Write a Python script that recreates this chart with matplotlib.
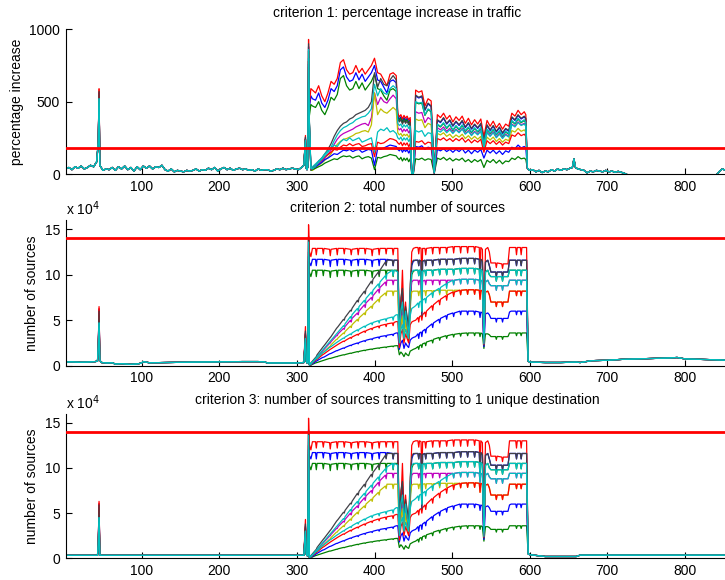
import matplotlib
matplotlib.use("Agg")
import matplotlib.pyplot as plt

plt.rcParams['font.family'] = ['Liberation Sans', 'DejaVu Sans']
plt.rcParams['font.size'] = 10

# classic MATLAB line colours
RED = (1.0, 0.0, 0.0)
BLUE = (0.0, 0.0, 1.0)
GREEN = (0.0, 0.5, 0.0)
CYAN = (0.0, 0.75, 0.75)
MAGENTA = (0.75, 0.0, 0.75)
YELLOW = (0.75, 0.75, 0.0)
DARK = (0.25, 0.25, 0.28)

# ------------------------------------------------ criterion 1: % increase
# samples of the attack window (311 .. 600)
PCT_STEPS = ([311, 312, 313, 314, 315, 316, 318]
             + list(range(320, 429, 4))
             + list(range(430, 451, 2))
             + list(range(453, 594, 4))
             + [595, 597, 600])

PCT_PRE_T = list(range(2, 43, 4)) + [44, 45] + list(range(46, 307, 4)) + [309]
PCT_PRE_V = ([35, 45, 30, 50, 40, 55, 35, 45, 60, 50, 85, 220, 520]
             + [60, 25, 35, 30, 45, 25, 50, 35, 55, 30, 45, 20, 50, 30, 55, 40, 55, 35, 50, 45,
                60, 30, 20, 35, 15, 25, 20, 15, 25, 20, 25, 35, 20, 30, 25, 40, 30, 45, 20, 35,
                45, 30, 40, 25, 35, 40, 30, 35, 25, 30, 20, 35, 25, 30, 30, 20, 25, 35, 30, 40,
                30, 35, 40, 35, 30, 45]
             + [60])
PCT_POST_T = list(range(604, 653, 4)) + [655, 657, 659] + list(range(662, 727, 4)) + \
    [735, 760, 790, 820, 840, 844, 848, 853]
PCT_POST_V = ([30, 15, 25, 10, 20, 15, 30, 20, 35, 25, 35, 30, 40]
              + [45, 105, 45]
              + [35, 30, 25, 8, 20, 15, 25, 20, 15, 25, 15, 20, 12, 18, 12, 5, -5]
              + [-30, -40, -35, -30, -10, 15, 35, 25])

PCT_R1 = ([266, 40, 30, 50, 930, 480, 590]
          + [580, 560, 610, 540, 500, 560, 640, 620, 660, 770, 790, 720, 690, 700, 750, 700, 730,
             690, 720, 750, 800, 700, 690, 650, 610, 690, 700, 680]
          + [420, 395, 410, 380, 405, 385, 400, 375, 390, 0, 0]
          + [580, 565, 575, 470, 520, 505, 10, 410, 390, 420, 380, 405, 360, 395, 370, 400, 350,
             385, 340, 375, 345, 380, 260, 370, 330, 365, 320, 350, 310, 345, 330, 420, 400, 440,
             410, 430]
          + [410, 40, 25])
PCT_B1 = ([250, 40, 30, 50, 880, 450, 540]
          + [520, 510, 560, 490, 460, 510, 590, 570, 610, 720, 740, 670, 640, 650, 700, 650, 690,
             640, 670, 700, 750, 650, 640, 600, 560, 640, 650, 630]
          + [400, 380, 395, 365, 390, 370, 385, 360, 375, 0, 0]
          + [540, 525, 535, 440, 485, 465, 10, 370, 355, 385, 345, 370, 330, 360, 335, 365, 320,
             350, 310, 340, 315, 345, 225, 335, 300, 330, 290, 320, 280, 310, 295, 390, 370, 405,
             380, 395]
          + [380, 40, 25])
PCT_G1 = ([240, 40, 30, 50, 850, 400, 480]
          + [470, 460, 500, 440, 410, 460, 530, 510, 550, 660, 680, 610, 580, 590, 640, 590, 630,
             580, 610, 640, 690, 590, 580, 540, 510, 580, 590, 570]
          + [390, 370, 385, 355, 380, 360, 375, 350, 365, 0, 0]
          + [495, 485, 490, 405, 445, 430, 10, 340, 325, 350, 315, 340, 300, 330, 305, 335, 295,
             320, 285, 315, 290, 315, 205, 305, 280, 305, 270, 295, 260, 290, 275, 365, 345, 380,
             355, 370]
          + [350, 40, 25])
PCT_K1 = ([255, 40, 30, 50, 900, 380, 40]
          + [40, 60, 90, 110, 140, 170, 210, 260, 300, 330, 350, 360, 380, 390, 410, 420, 430, 440,
             460, 500, 700, 600, 660, 620, 610, 650, 680, 650]
          + [380, 360, 375, 345, 370, 350, 365, 340, 355, 0, 0]
          + [545, 530, 540, 445, 490, 470, 10, 375, 360, 390, 350, 375, 335, 365, 340, 370, 325,
             355, 315, 345, 320, 350, 230, 340, 305, 335, 295, 325, 285, 315, 300, 395, 375, 410,
             385, 400]
          + [385, 40, 25])
PCT_C1 = ([235, 40, 30, 50, 860, 370, 40]
          + [35, 55, 80, 100, 125, 150, 185, 230, 270, 300, 320, 330, 345, 355, 375, 385, 395, 400,
             420, 450, 620, 540, 590, 560, 550, 590, 610, 590]
          + [350, 335, 345, 320, 340, 325, 340, 315, 330, 0, 0]
          + [500, 490, 495, 410, 450, 435, 10, 345, 330, 355, 320, 345, 305, 335, 310, 340, 300,
             325, 290, 320, 295, 320, 210, 310, 285, 310, 275, 300, 265, 295, 280, 370, 350, 385,
             360, 375]
          + [355, 40, 25])
PCT_M1 = ([240, 40, 30, 50, 780, 360, 30]
          + [30, 50, 70, 90, 110, 135, 165, 205, 240, 265, 280, 290, 300, 310, 325, 335, 345, 350,
             335, 390, 560, 480, 530, 500, 490, 520, 545, 520]
          + [320, 305, 315, 290, 310, 295, 310, 285, 300, 0, 0]
          + [430, 420, 425, 355, 390, 375, 8, 320, 305, 325, 295, 315, 285, 310, 290, 315, 280,
             300, 270, 295, 275, 300, 195, 290, 265, 290, 255, 280, 250, 275, 260, 345, 330, 360,
             340, 350]
          + [335, 40, 25])
PCT_Y1 = ([240, 40, 30, 50, 780, 360, 30]
          + [25, 40, 60, 75, 95, 115, 140, 175, 205, 225, 240, 245, 255, 265, 280, 285, 295, 300,
             290, 340, 560, 410, 450, 430, 420, 440, 460, 440]
          + [285, 270, 280, 260, 275, 265, 275, 255, 270, 0, 0]
          + [380, 370, 375, 320, 350, 340, 8, 280, 270, 285, 260, 275, 250, 270, 255, 275, 245,
             265, 240, 260, 240, 260, 170, 255, 235, 255, 225, 245, 220, 240, 230, 300, 290, 315,
             295, 305]
          + [290, 40, 25])
PCT_C2 = ([230, 40, 30, 50, 800, 370, 35]
          + [50, 70, 90, 110, 140, 160, 180, 200, 190, 220, 240, 230, 250, 230, 240, 250, 220, 230,
             240, 250, 150, 290, 310, 300, 320, 290, 300, 280]
          + [250, 240, 255, 230, 250, 235, 250, 225, 245, 0, 0]
          + [300, 290, 300, 260, 285, 280, 8, 300, 290, 310, 285, 305, 280, 305, 285, 310, 275,
             295, 265, 290, 270, 295, 180, 285, 260, 285, 250, 275, 245, 270, 255, 340, 325, 355,
             335, 345]
          + [330, 40, 25])
PCT_R2 = ([240, 40, 30, 50, 780, 360, 30]
          + [45, 60, 80, 95, 120, 135, 150, 170, 165, 185, 200, 195, 210, 195, 205, 210, 190, 195,
             205, 210, 120, 220, 210, 215, 230, 245, 240, 230]
          + [215, 205, 220, 195, 215, 200, 215, 190, 210, 0, 0]
          + [225, 220, 230, 205, 220, 215, 6, 245, 235, 250, 230, 245, 225, 245, 230, 250, 220,
             240, 215, 235, 220, 240, 150, 230, 210, 230, 205, 225, 200, 220, 210, 270, 260, 285,
             265, 275]
          + [260, 40, 25])
PCT_B2 = ([240, 40, 30, 50, 760, 350, 30]
          + [40, 50, 65, 80, 100, 110, 125, 140, 135, 150, 165, 160, 170, 155, 165, 170, 150, 160,
             170, 165, 60, 175, 170, 180, 190, 200, 195, 190]
          + [170, 160, 175, 150, 170, 155, 170, 145, 165, 0, 0]
          + [190, 185, 195, 170, 185, 180, 5, 170, 160, 175, 155, 170, 150, 170, 155, 175, 145,
             165, 140, 165, 150, 170, 110, 165, 145, 165, 140, 160, 135, 160, 150, 185, 175, 200,
             180, 190]
          + [180, 40, 25])
PCT_G2 = ([240, 40, 30, 50, 740, 340, 25]
          + [30, 40, 50, 60, 75, 85, 95, 105, 100, 115, 125, 120, 125, 110, 120, 125, 105, 115,
             120, 110, 30, 115, 110, 120, 125, 135, 130, 125]
          + [110, 100, 115, 90, 110, 95, 110, 85, 105, 0, 0]
          + [105, 100, 110, 95, 105, 100, 4, 110, 100, 115, 95, 110, 90, 105, 95, 110, 85, 100,
             80, 100, 85, 100, 45, 95, 80, 100, 75, 95, 70, 90, 85, 110, 100, 120, 105, 110]
          + [100, 40, 25])
PCT_PEAK45 = [590, 560, 540, 570, 520, 550, 540, 520, 585, 560, 540]
PCT_THRESHOLD = 183

# ------------------------------------- criterion 2: total sources (x 1e4)
# attack window samples; the plateaus carry short periodic drops
SRC_STEPS = ([311, 312, 313, 314, 315, 316, 318]
             + [320,
                324, 325, 326, 333, 334, 335, 342, 343, 344, 351, 352, 353,
                360, 361, 362, 369, 370, 371, 378, 379, 380, 387, 388, 389,
                396, 397, 398, 405, 406, 407, 414, 415, 416, 423, 424, 425,
                428]
             + [430, 432, 434, 436, 438, 440, 442, 444, 446, 448, 450]
             + [453,
                456, 457, 458, 460, 461, 462, 465, 466, 467, 474, 475, 476,
                483, 484, 485, 492, 493, 494, 501, 502, 503, 510, 511, 512,
                519, 520, 521, 528, 529, 530, 535, 536, 537,
                539, 541, 543, 546, 548, 550, 551,
                556, 557, 558, 564, 565, 566,
                572, 574, 576,
                582, 583, 584, 588, 589, 590,
                594]
             + [596, 598, 600])

SRC_PRE_T = [2, 10, 20, 30, 40, 43, 44, 45, 46, 48, 55, 62, 66, 75, 85, 95, 100, 102, 110, 130,
             150, 170, 190, 210, 230, 250, 258, 262, 280, 300, 309]
SRC_PRE_V = [0.40, 0.42, 0.38, 0.40, 0.45, 0.5, 2.0, 4.7, 0.6, 0.35, 0.30, 0.32, 0.18, 0.22,
             0.15, 0.20, 0.30, 0.45, 0.32, 0.35, 0.38, 0.40, 0.42, 0.45, 0.45, 0.45, 0.42, 0.30,
             0.30, 0.30, 0.35]
SRC_POST_T = [620, 640, 660, 665, 680, 700, 720, 740, 760, 780, 790, 800, 820, 840, 856]
SRC_POST_V = [0.35, 0.35, 0.40, 0.35, 0.55, 0.60, 0.70, 0.75, 0.80, 0.85, 0.90, 0.75, 0.70,
              0.65, 0.60]

SRC_R1 = ([4.3, 0.5, 0.3, 0.3, 15.5, 12.6, 12.0]
          + [12.9,
             12.9, 12.2, 12.9, 12.9, 12.3, 12.9, 12.8, 12.1, 12.8, 12.9, 12.2, 12.9,
             12.9, 12.3, 12.9, 12.8, 12.2, 12.8, 12.9, 12.2, 12.9, 12.9, 12.3, 12.9,
             12.8, 12.1, 12.8, 12.9, 12.2, 12.9, 12.9, 12.3, 12.9, 12.9, 12.2, 12.9,
             12.9]
          + [12.9, 4.0, 6.0, 10.5, 5.0, 7.0, 4.5, 3.5, 8.0, 12.5, 12.9]
          + [13.0,
             13.0, 12.3, 13.0, 12.9, 8.0, 12.9, 12.9, 12.2, 12.9, 13.0, 12.3, 13.0,
             13.0, 12.3, 13.0, 13.0, 12.4, 13.0, 13.1, 12.4, 13.1, 13.1, 12.4, 13.1,
             13.1, 12.4, 13.1, 13.1, 12.5, 13.1, 13.0, 10.0, 13.0,
             12.8, 4.0, 12.8, 13.0, 12.5, 11.3, 11.3,
             11.3, 10.8, 11.3, 11.2, 10.7, 11.2,
             11.2, 13.0, 13.0,
             13.0, 12.2, 13.0, 13.0, 12.2, 13.0,
             13.0]
          + [13.0, 0.5, 0.4])
SRC_B1 = ([3.6, 0.5, 0.3, 0.3, 14.2, 11.4, 11.0]
          + [11.7,
             11.7, 11.0, 11.7, 11.7, 11.1, 11.7, 11.6, 10.9, 11.6, 11.7, 11.0, 11.7,
             11.7, 11.1, 11.7, 11.6, 11.0, 11.6, 11.7, 11.0, 11.7, 11.7, 11.1, 11.7,
             11.6, 10.9, 11.6, 11.7, 11.0, 11.7, 11.7, 11.1, 11.7, 11.6, 11.0, 11.6,
             11.6]
          + [11.6, 3.5, 5.0, 8.0, 4.0, 6.0, 4.0, 3.0, 7.0, 11.0, 11.5]
          + [11.6,
             11.6, 11.0, 11.6, 11.5, 5.5, 11.5, 11.6, 11.0, 11.6, 11.6, 11.0, 11.6,
             11.7, 11.1, 11.7, 11.7, 11.1, 11.7, 11.7, 11.1, 11.7, 11.8, 11.2, 11.8,
             11.8, 11.2, 11.8, 11.8, 11.2, 11.8, 11.7, 9.5, 11.7,
             11.5, 3.5, 11.4, 11.6, 11.0, 10.3, 10.3,
             10.3, 9.8, 10.3, 10.3, 9.8, 10.3,
             10.3, 11.6, 11.6,
             11.6, 11.0, 11.6, 11.6, 11.0, 11.6,
             11.6]
          + [11.6, 0.5, 0.4])
SRC_G1 = ([3.4, 0.5, 0.3, 0.3, 13.8, 10.3, 9.8]
          + [10.5,
             10.5, 9.8, 10.5, 10.5, 9.9, 10.5, 10.4, 9.7, 10.4, 10.5, 9.8, 10.5,
             10.5, 9.9, 10.5, 10.4, 9.8, 10.4, 10.5, 9.8, 10.5, 10.5, 9.9, 10.5,
             10.4, 9.7, 10.4, 10.5, 9.8, 10.5, 10.5, 9.9, 10.5, 10.5, 9.8, 10.5,
             10.5]
          + [10.5, 3.0, 4.5, 7.0, 3.5, 5.5, 3.5, 2.8, 6.0, 10.0, 10.4]
          + [10.5,
             10.5, 9.9, 10.5, 10.4, 6.0, 10.4, 10.5, 9.9, 10.5, 10.5, 9.9, 10.5,
             10.6, 10.0, 10.6, 10.6, 10.0, 10.6, 10.6, 10.0, 10.6, 10.7, 10.1, 10.7,
             10.7, 10.1, 10.7, 10.7, 10.1, 10.7, 10.6, 9.0, 10.6,
             10.4, 3.0, 10.3, 10.5, 10.0, 9.8, 9.8,
             9.8, 9.3, 9.8, 9.8, 9.3, 9.8,
             9.8, 10.5, 10.5,
             10.5, 9.9, 10.5, 10.5, 9.9, 10.5,
             10.5]
          + [10.5, 0.5, 0.4])
SRC_K1 = ([3.8, 0.5, 0.3, 0.3, 14.0, 0.1, 0.3]
          + [0.5,
             0.9, 1.0, 1.2, 2.0, 2.1, 2.2, 3.0, 3.1, 3.2, 4.1, 4.2, 4.3,
             5.1, 5.0, 5.3, 6.1, 6.0, 6.3, 7.2, 7.0, 7.4, 8.2, 7.9, 8.4,
             9.3, 9.0, 9.5, 10.3, 10.0, 10.5, 11.4, 11.0, 11.6, 11.6, 11.0, 11.6,
             11.6]
          + [11.6, 4.5, 7.5, 8.5, 4.5, 6.5, 5.5, 4.0, 9.0, 11.2, 11.6]
          + [11.6,
             11.6, 11.0, 11.6, 11.5, 5.5, 11.5, 11.6, 11.0, 11.6, 11.6, 11.0, 11.6,
             11.7, 11.1, 11.7, 11.7, 11.1, 11.7, 11.7, 11.1, 11.7, 11.8, 11.2, 11.8,
             11.8, 11.2, 11.8, 11.8, 11.2, 11.8, 11.7, 9.5, 11.7,
             11.5, 3.5, 11.4, 11.6, 11.0, 10.3, 10.3,
             10.3, 9.8, 10.3, 10.3, 9.8, 10.3,
             10.3, 11.6, 11.6,
             11.6, 11.0, 11.6, 11.6, 11.0, 11.6,
             11.6]
          + [11.6, 0.5, 0.4])
SRC_C1 = ([3.0, 0.5, 0.3, 0.3, 13.6, 0.1, 0.3]
          + [0.4,
             0.8, 0.9, 1.0, 1.7, 1.8, 1.9, 2.6, 2.7, 2.8, 3.5, 3.6, 3.7,
             4.4, 4.3, 4.6, 5.4, 5.2, 5.6, 6.3, 6.0, 6.5, 7.2, 6.9, 7.4,
             8.1, 7.8, 8.3, 9.0, 8.6, 9.2, 9.9, 9.5, 10.1, 10.5, 9.9, 10.5,
             10.4]
          + [10.3, 3.5, 6.0, 7.0, 4.0, 6.0, 4.5, 3.5, 8.0, 10.2, 10.5]
          + [10.5,
             10.5, 9.9, 10.5, 10.4, 6.0, 10.4, 10.5, 9.9, 10.5, 10.5, 9.9, 10.5,
             10.6, 10.0, 10.6, 10.6, 10.0, 10.6, 10.6, 10.0, 10.6, 10.7, 10.1, 10.7,
             10.7, 10.1, 10.7, 10.7, 10.1, 10.7, 10.6, 9.0, 10.6,
             10.4, 3.0, 10.3, 10.5, 10.0, 9.8, 9.8,
             9.8, 9.3, 9.8, 9.8, 9.3, 9.8,
             9.8, 10.5, 10.5,
             10.5, 9.9, 10.5, 10.5, 9.9, 10.5,
             10.5]
          + [10.5, 0.5, 0.4])
SRC_M1 = ([3.3, 0.5, 0.3, 0.3, 12.5, 0.1, 0.2]
          + [0.4,
             0.75, 0.85, 0.95, 1.6, 1.7, 1.8, 2.45, 2.5, 2.65, 3.3, 3.3, 3.5,
             4.1, 4.0, 4.3, 5.0, 4.8, 5.2, 5.8, 5.6, 6.0, 6.7, 6.4, 6.9,
             7.5, 7.2, 7.7, 8.4, 8.0, 8.6, 9.2, 8.8, 9.4, 9.4, 8.9, 9.4,
             9.4]
          + [9.4, 3.0, 5.0, 6.0, 3.5, 5.5, 4.0, 3.2, 7.5, 9.2, 9.4]
          + [9.4,
             9.4, 8.9, 9.4, 9.3, 6.5, 9.3, 9.4, 8.9, 9.4, 9.4, 8.9, 9.4,
             9.4, 8.9, 9.4, 9.4, 8.9, 9.4, 9.4, 8.9, 9.4, 9.5, 9.0, 9.5,
             9.5, 9.0, 9.5, 9.5, 9.0, 9.5, 9.4, 8.4, 9.4,
             9.3, 2.6, 9.2, 9.4, 9.0, 8.8, 8.8,
             8.8, 8.3, 8.8, 8.8, 8.3, 8.8,
             8.8, 9.4, 9.4,
             9.4, 8.9, 9.4, 9.4, 8.9, 9.4,
             9.4]
          + [9.4, 0.5, 0.4])
SRC_Y1 = ([3.2, 0.5, 0.3, 0.3, 12.0, 0.1, 0.2]
          + [0.3,
             0.65, 0.7, 0.8, 1.4, 1.45, 1.55, 2.1, 2.15, 2.3, 2.9, 2.9, 3.05,
             3.6, 3.5, 3.75, 4.35, 4.2, 4.5, 5.1, 4.9, 5.25, 5.8, 5.6, 6.0,
             6.55, 6.3, 6.7, 7.3, 7.0, 7.5, 8.0, 7.7, 8.2, 8.2, 7.7, 8.2,
             8.2]
          + [8.2, 2.5, 4.5, 5.5, 3.0, 5.0, 3.5, 3.0, 7.0, 8.1, 8.2]
          + [8.2,
             8.2, 7.7, 8.2, 8.2, 6.0, 8.2, 8.25, 7.7, 8.25, 8.25, 7.7, 8.25,
             8.3, 7.8, 8.3, 8.3, 7.8, 8.3, 8.3, 7.8, 8.3, 8.3, 7.8, 8.3,
             8.35, 7.85, 8.35, 8.35, 7.85, 8.35, 8.3, 7.3, 8.3,
             8.2, 2.3, 8.1, 8.2, 7.8, 7.0, 7.0,
             7.0, 6.5, 7.0, 7.0, 6.5, 7.0,
             7.0, 8.2, 8.2,
             8.2, 7.7, 8.2, 8.2, 7.7, 8.2,
             8.2]
          + [8.2, 0.5, 0.4])
SRC_C2 = ([3.0, 0.5, 0.3, 0.3, 12.0, 0.1, 0.15]
          + [0.35,
             0.7, 0.75, 0.8, 1.4, 1.45, 1.5, 2.0, 2.05, 2.1, 2.55, 2.6, 2.65,
             3.05, 3.0, 3.15, 3.5, 3.4, 3.6, 3.95, 3.8, 4.0, 4.35, 4.2, 4.4,
             4.7, 4.5, 4.75, 4.95, 4.7, 5.0, 5.15, 4.9, 5.2, 5.35, 5.0, 5.4,
             5.6]
          + [5.6, 2.5, 4.0, 4.5, 3.0, 4.0, 3.5, 3.0, 5.5, 6.3, 6.4]
          + [6.6,
             6.9, 6.4, 7.0, 7.1, 6.0, 7.2, 7.4, 6.9, 7.5, 8.0, 7.5, 8.1,
             8.5, 8.0, 8.6, 9.0, 8.5, 9.1, 9.4, 8.9, 9.4, 9.5, 9.0, 9.5,
             9.5, 9.0, 9.5, 9.5, 9.0, 9.5, 9.4, 8.4, 9.4,
             9.3, 2.4, 9.2, 9.4, 9.0, 8.8, 8.8,
             8.8, 8.3, 8.8, 8.8, 8.3, 8.8,
             8.8, 9.4, 9.4,
             9.4, 8.9, 9.4, 9.4, 8.9, 9.4,
             9.4]
          + [9.4, 0.5, 0.4])
SRC_R2 = ([3.5, 0.5, 0.3, 0.3, 12.5, 0.1, 0.1]
          + [0.3,
             0.6, 0.65, 0.7, 1.2, 1.25, 1.3, 1.75, 1.8, 1.85, 2.25, 2.3, 2.35,
             2.7, 2.65, 2.75, 3.1, 3.0, 3.15, 3.45, 3.35, 3.5, 3.8, 3.65, 3.85,
             4.1, 3.95, 4.15, 4.35, 4.15, 4.4, 4.55, 4.3, 4.6, 4.7, 4.4, 4.75,
             4.85]
          + [4.85, 2.0, 3.5, 4.0, 2.5, 3.5, 3.0, 2.5, 4.5, 4.8, 4.9]
          + [5.0,
             5.3, 4.8, 5.4, 5.5, 5.0, 5.6, 5.9, 5.4, 6.0, 6.6, 6.1, 6.7,
             7.2, 6.7, 7.3, 7.7, 7.2, 7.8, 8.1, 7.6, 8.1, 8.3, 7.8, 8.3,
             8.35, 7.85, 8.35, 8.35, 7.85, 8.35, 8.3, 7.3, 8.3,
             8.2, 2.3, 8.1, 8.2, 7.8, 7.0, 7.0,
             7.0, 6.5, 7.0, 7.0, 6.5, 7.0,
             7.0, 8.2, 8.2,
             8.2, 7.7, 8.2, 8.2, 7.7, 8.2,
             8.2]
          + [8.2, 0.5, 0.4])
SRC_B2 = ([3.4, 0.5, 0.3, 0.3, 12.0, 0.1, 0.1]
          + [0.2,
             0.45, 0.5, 0.55, 0.9, 0.92, 0.95, 1.3, 1.32, 1.35, 1.65, 1.65, 1.7,
             1.95, 1.9, 2.0, 2.25, 2.2, 2.3, 2.5, 2.4, 2.55, 2.75, 2.65, 2.8,
             2.95, 2.85, 3.0, 3.15, 3.0, 3.2, 3.3, 3.15, 3.35, 3.45, 3.3, 3.5,
             3.6]
          + [3.6, 1.8, 2.5, 2.8, 1.9, 2.5, 2.2, 2.0, 2.8, 3.0, 3.1]
          + [3.2,
             3.5, 3.0, 3.6, 3.7, 3.2, 3.8, 4.0, 3.6, 4.1, 4.6, 4.2, 4.7,
             5.1, 4.7, 5.2, 5.5, 5.1, 5.6, 5.8, 5.4, 5.8, 6.0, 5.6, 6.0,
             6.0, 5.6, 6.0, 6.0, 5.6, 6.0, 5.9, 5.3, 5.9,
             5.8, 2.1, 5.7, 5.8, 5.6, 5.2, 5.2,
             5.2, 4.8, 5.2, 5.2, 4.8, 5.2,
             5.2, 5.9, 6.0,
             6.0, 5.6, 6.0, 6.0, 5.6, 6.0,
             6.0]
          + [6.0, 0.5, 0.4])
SRC_G2 = ([3.2, 0.5, 0.3, 0.3, 11.5, 0.1, 0.05]
          + [0.15,
             0.3, 0.32, 0.35, 0.55, 0.57, 0.6, 0.8, 0.8, 0.82, 1.0, 1.0, 1.05,
             1.2, 1.18, 1.22, 1.38, 1.35, 1.4, 1.55, 1.5, 1.57, 1.7, 1.65, 1.72,
             1.83, 1.78, 1.85, 1.95, 1.9, 1.97, 2.05, 1.98, 2.07, 2.15, 2.08, 2.17,
             2.2]
          + [2.2, 1.2, 1.5, 1.3, 1.0, 1.4, 1.2, 1.1, 1.6, 1.7, 1.8]
          + [1.9,
             2.1, 1.8, 2.2, 2.3, 2.0, 2.4, 2.5, 2.2, 2.6, 2.8, 2.5, 2.9,
             3.1, 2.8, 3.1, 3.3, 3.0, 3.3, 3.45, 3.15, 3.45, 3.55, 3.25, 3.55,
             3.6, 3.3, 3.6, 3.6, 3.3, 3.6, 3.6, 3.2, 3.6,
             3.5, 1.9, 3.5, 3.5, 3.4, 3.2, 3.2,
             3.2, 2.9, 3.2, 3.2, 2.9, 3.2,
             3.2, 3.6, 3.6,
             3.6, 3.3, 3.6, 3.6, 3.3, 3.6,
             3.6]
          + [3.6, 0.5, 0.4])
SRC_PEAK45 = [6.5, 6.2, 5.5, 6.0, 4.7, 5.2, 5.0, 4.7, 6.3, 5.8, 5.0]
SRC_THRESHOLD = 14.0

# ---------------- criterion 3: sources sending to one destination (x 1e4)
# during the attack window these counts coincide with the totals above
UNQ_PRE_T = [2, 43, 44, 45, 46, 309]
UNQ_PRE_V = [0.33, 0.33, 1.5, 4.5, 0.33, 0.33]
UNQ_POST_T = [620, 660, 665, 700, 760, 800, 856]
UNQ_POST_V = [0.20, 0.20, 0.35, 0.35, 0.35, 0.35, 0.35]
UNQ_PEAK45 = [6.3, 6.0, 5.3, 5.9, 4.5, 5.0, 4.8, 4.5, 6.1, 5.6, 4.8]

# series order: R1 B1 G1 K1 C1 M1 Y1 C2 R2 B2 G2
COLORS = [RED, BLUE, GREEN, DARK, CYAN, MAGENTA, YELLOW, CYAN, RED, BLUE, GREEN]
PCT_ACTIVE = [PCT_R1, PCT_B1, PCT_G1, PCT_K1, PCT_C1, PCT_M1, PCT_Y1, PCT_C2, PCT_R2, PCT_B2,
              PCT_G2]
SRC_ACTIVE = [SRC_R1, SRC_B1, SRC_G1, SRC_K1, SRC_C1, SRC_M1, SRC_Y1, SRC_C2, SRC_R2, SRC_B2,
              SRC_G2]
# drawing order (last one ends up on top)
DRAW_ORDER = [1, 2, 5, 6, 10, 9, 8, 0, 3, 4, 7]


def build(pre_t, pre_v, peak, steps, active, post_t, post_v):
    vals = list(pre_v)
    vals[pre_t.index(45)] = peak
    return pre_t + steps + post_t, vals + list(active) + list(post_v)


fig = plt.figure(figsize=(7.25, 5.8), dpi=100)
rects = [(0.0906, 0.700, 0.914, 0.2495),
         (0.0906, 0.3695, 0.914, 0.2508),
         (0.0906, 0.0374, 0.914, 0.2493)]
panels = [
    ("criterion 1: percentage increase in traffic", "percentage increase",
     PCT_PRE_T, PCT_PRE_V, PCT_PEAK45, PCT_STEPS, PCT_ACTIVE, PCT_POST_T, PCT_POST_V,
     PCT_THRESHOLD, (0, 1000), [0, 500, 1000], False, 9),
    ("criterion 2: total number of sources", "number of sources",
     SRC_PRE_T, SRC_PRE_V, SRC_PEAK45, SRC_STEPS, SRC_ACTIVE, SRC_POST_T, SRC_POST_V,
     SRC_THRESHOLD, (0, 16), [0, 5, 10, 15], True, 6),
    ("criterion 3: number of sources transmitting to 1 unique destination", "number of sources",
     UNQ_PRE_T, UNQ_PRE_V, UNQ_PEAK45, SRC_STEPS, SRC_ACTIVE, UNQ_POST_T, UNQ_POST_V,
     SRC_THRESHOLD, (0, 16), [0, 5, 10, 15], True, 7),
]

for rect, (title, ylabel, pre_t, pre_v, peaks, steps, active, post_t, post_v,
           thr, ylim, yticks, scaled, tpad) in zip(rects, panels):
    ax = fig.add_axes(rect)
    for k in DRAW_ORDER:
        x, y = build(pre_t, pre_v, peaks[k], steps, active[k], post_t, post_v)
        ax.plot(x, y, color=COLORS[k], lw=0.9)
    ax.axhline(thr, color=RED, lw=2.0, zorder=5)
    ax.set_xlim(2, 856)
    ax.set_ylim(*ylim)
    ax.set_xticks(range(100, 801, 100))
    ax.set_yticks(yticks)
    ax.tick_params(direction='in', length=4, width=0.8, labelsize=10, pad=4,
                   top=False, right=False)
    for side in ('top', 'right'):
        ax.spines[side].set_visible(False)
    for side in ('left', 'bottom'):
        ax.spines[side].set_linewidth(0.8)
    ax.set_title(title, fontsize=10, pad=tpad)
    ax.set_ylabel(ylabel, fontsize=10)
    if scaled:
        ax.text(0.0, 1.015, r'x 10$^{4}$', transform=ax.transAxes,
                ha='left', va='bottom', fontsize=10)

fig.savefig("out.png", dpi=100)
